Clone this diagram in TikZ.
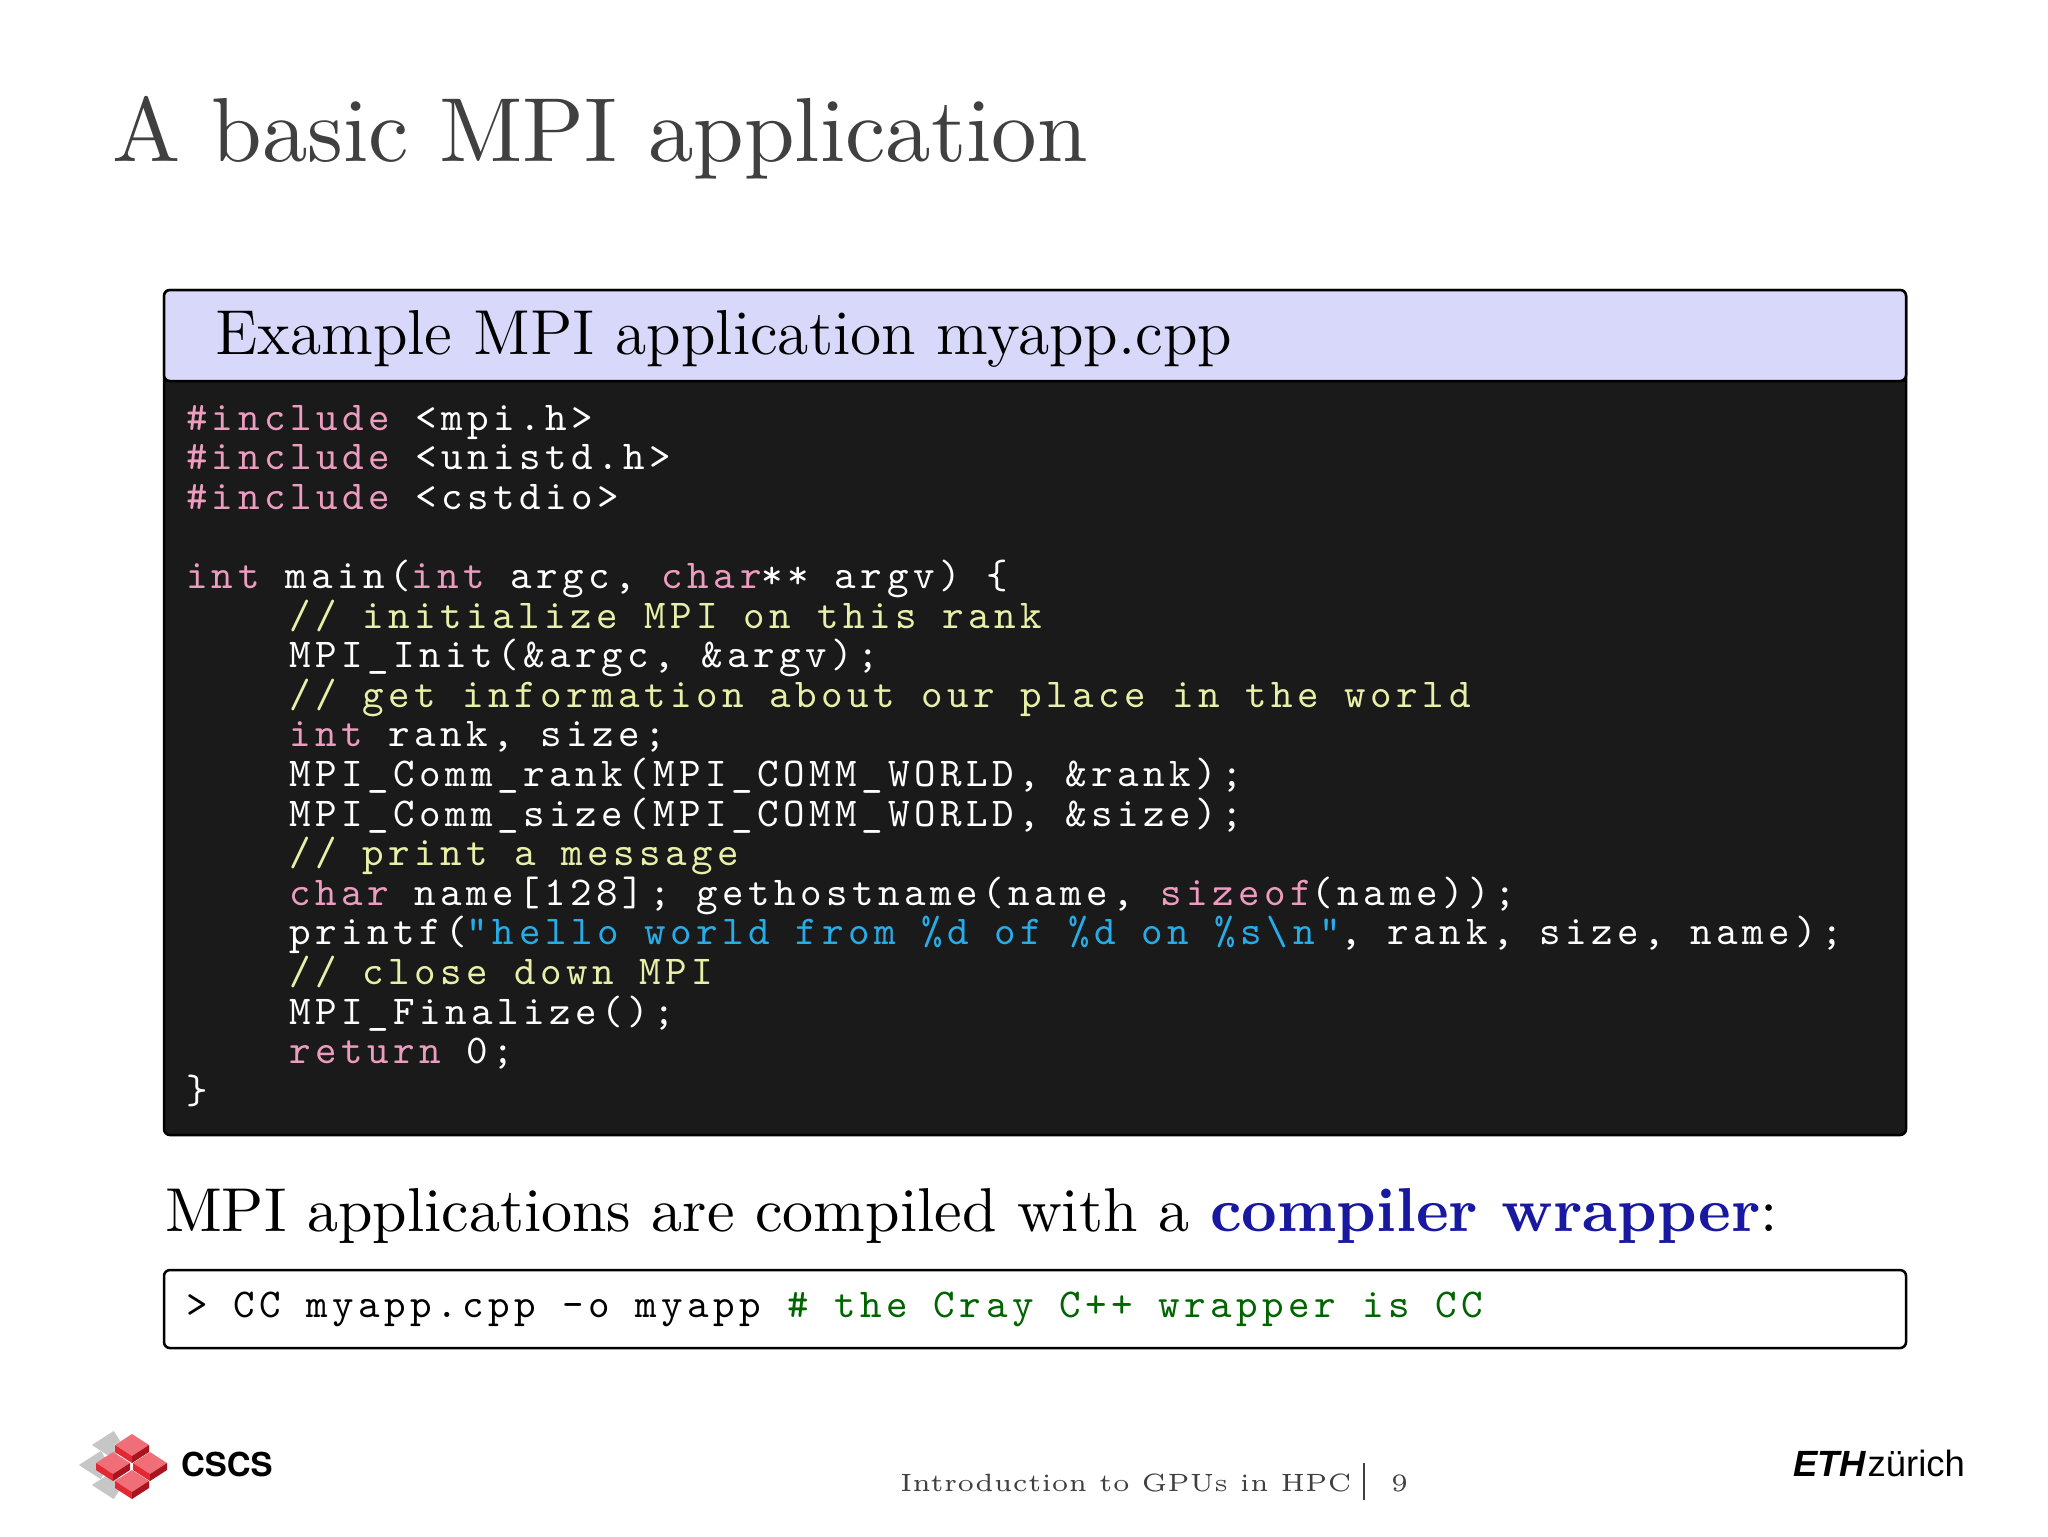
\documentclass[tikz,border=0pt]{standalone}
\usepackage{fontspec}
\newfontfamily\heros{TeX Gyre Heros}
\newfontfamily\libsans{Liberation Sans}
\newfontfamily\lmten{lmroman10-regular.otf}[BoldFont=lmroman10-bold.otf]
\newfontfamily\codefam{lmmono10-regular.otf}[LetterSpace=11]
\definecolor{titlegrey}{RGB}{64,64,64}
\definecolor{headbg}{RGB}{216,216,250}
\definecolor{codebg}{RGB}{26,26,26}
\definecolor{kwc}{RGB}{236,156,190}
\definecolor{cmc}{RGB}{232,240,168}
\definecolor{stc}{RGB}{40,172,232}
\definecolor{wrapblue}{RGB}{24,24,160}
\definecolor{shgreen}{RGB}{0,100,0}
\definecolor{cubered}{RGB}{226,40,50}
\definecolor{cubedark}{RGB}{170,20,30}
\definecolor{cubelight}{RGB}{240,110,120}
\newcommand\codefont{\codefam\fontsize{8.2}{9}\selectfont}
\newlength\cw
\settowidth\cw{\codefont xxxxxxxxxxxxxxxxxxxx}
\setlength\cw{0.05\cw}
\def\SP{\hspace*{\cw}}
\newcommand\kw[1]{\textcolor{kwc}{#1}}
\newcommand\cm[1]{\textcolor{cmc}{#1}}
\newcommand\st[1]{\textcolor{stc}{#1}}
\begin{document}
\begin{tikzpicture}[x=0.2pt,y=-0.2pt,
  code/.style={anchor=base west,inner sep=0pt,text=white,font=\codefont}]
\useasboundingbox (0,0) rectangle (2048,1536);
\fill[white] (0,0) rectangle (2048,1536);
% title
\node[anchor=base west,inner sep=0pt,text=titlegrey,font=\lmten\fontsize{18.2}{20}\selectfont] (title) at (112,161) {A basic MPI application};
% code box
\draw[fill=codebg,rounded corners=1.2pt,line width=0.5pt] (164,290) rectangle (1906,1135);
\draw[fill=headbg,line width=0.5pt,rounded corners=1.2pt] (164,290) rectangle (1906,381);
\draw[line width=0.5pt] (164,381) -- (1906,381);
\node[anchor=base west,inner sep=0pt,font=\fontsize{12.7}{14}\selectfont] (head) at (214,354) {Example MPI application myapp.cpp};
\node[code] (l1) at (185,430.0) {\kw{\#include}\SP<mpi.h>};
\node[code] (l2) at (185,469.6) {\kw{\#include}\SP<unistd.h>};
\node[code] (l3) at (185,509.2) {\kw{\#include}\SP<cstdio>};
\node[code] (l5) at (185,588.4) {\kw{int}\SP main(\kw{int}\SP argc,\SP\kw{char}**\SP argv)\SP\{};
\node[code] (l6) at (185,628.0) {\SP\SP\SP\SP\cm{//\SP initialize\SP MPI\SP on\SP this\SP rank}};
\node[code] (l7) at (185,667.6) {\SP\SP\SP\SP MPI\_Init(\&argc,\SP\&argv);};
\node[code] (l8) at (185,707.2) {\SP\SP\SP\SP\cm{//\SP get\SP information\SP about\SP our\SP place\SP in\SP the\SP world}};
\node[code] (l9) at (185,746.8) {\SP\SP\SP\SP\kw{int}\SP rank,\SP size;};
\node[code] (l10) at (185,786.4) {\SP\SP\SP\SP MPI\_Comm\_rank(MPI\_COMM\_WORLD,\SP\&rank);};
\node[code] (l11) at (185,826.0) {\SP\SP\SP\SP MPI\_Comm\_size(MPI\_COMM\_WORLD,\SP\&size);};
\node[code] (l12) at (185,865.6) {\SP\SP\SP\SP\cm{//\SP print\SP a\SP message}};
\node[code] (l13) at (185,905.2) {\SP\SP\SP\SP\kw{char}\SP name[128];\SP gethostname(name,\SP\kw{sizeof}(name));};
\node[code] (l14) at (185,944.8) {\SP\SP\SP\SP printf(\st{"hello\SP world\SP from\SP\%d\SP of\SP\%d\SP on\SP\%s\textbackslash n"},\SP rank,\SP size,\SP name);};
\node[code] (l15) at (185,984.4) {\SP\SP\SP\SP\cm{//\SP close\SP down\SP MPI}};
\node[code] (l16) at (185,1024.0) {\SP\SP\SP\SP MPI\_Finalize();};
\node[code] (l17) at (185,1063.6) {\SP\SP\SP\SP\kw{return}\SP 0;};
\node[code] (l18) at (185,1103.2) {\}};
% sentence
\node[anchor=base west,inner sep=0pt,font=\lmten\fontsize{12.4}{13}\selectfont] (sent) at (164,1231) {MPI applications are compiled with a \textcolor{wrapblue}{\bfseries compiler wrapper}:};
% shell box
\draw[rounded corners=1.2pt,line width=0.5pt] (164,1270) rectangle (1906,1348);
\node[code,text=black] (sh) at (185,1317) {>\SP CC\SP myapp.cpp\SP -o\SP myapp\SP\textcolor{shgreen}{\#\SP the\SP Cray\SP C++\SP wrapper\SP is\SP CC}};
% footer
\node[anchor=base west,inner sep=0pt,text=titlegrey,font=\fontsize{5.0}{6}\selectfont\addfontfeature{LetterSpace=6}] (foot) at (899,1491) {Introduction to GPUs in HPC};
\draw[titlegrey,line width=0.4pt] (1364,1463) -- (1364,1500);
\node[anchor=base west,inner sep=0pt,text=titlegrey,font=\fontsize{5.0}{6}\selectfont] (pg) at (1390,1491) {9};
% CSCS logo
\foreach \cx/\cy in {103/1445,90/1465,103/1485}{
  \draw[gray!45,line width=2.4pt,line join=miter] (\cx+14,\cy-9) -- (\cx,\cy) -- (\cx+14,\cy+9);
}
\foreach \cx/\cy in {132/1447,113/1465,150/1465,132/1483}{
  \fill[cubelight] (\cx-17,\cy-2) -- (\cx,\cy-13) -- (\cx+17,\cy-2) -- (\cx,\cy+9) -- cycle;
  \fill[cubered] (\cx-17,\cy-2) -- (\cx,\cy+9) -- (\cx,\cy+16) -- (\cx-17,\cy+5) -- cycle;
  \fill[cubedark] (\cx+17,\cy-2) -- (\cx,\cy+9) -- (\cx,\cy+16) -- (\cx+17,\cy+5) -- cycle;
}
\node[anchor=base west,inner sep=0pt,font=\heros\bfseries\fontsize{6.6}{7}\selectfont] (cscs) at (180,1476) {CSCS};
% ETH logo
\node[anchor=base west,inner sep=0pt,font=\libsans\fontsize{7.3}{8}\selectfont] (eth) at (1792,1476) {\textbf{\textit{ETH}}\kern0.2pt zürich};
\end{tikzpicture}
\end{document}
